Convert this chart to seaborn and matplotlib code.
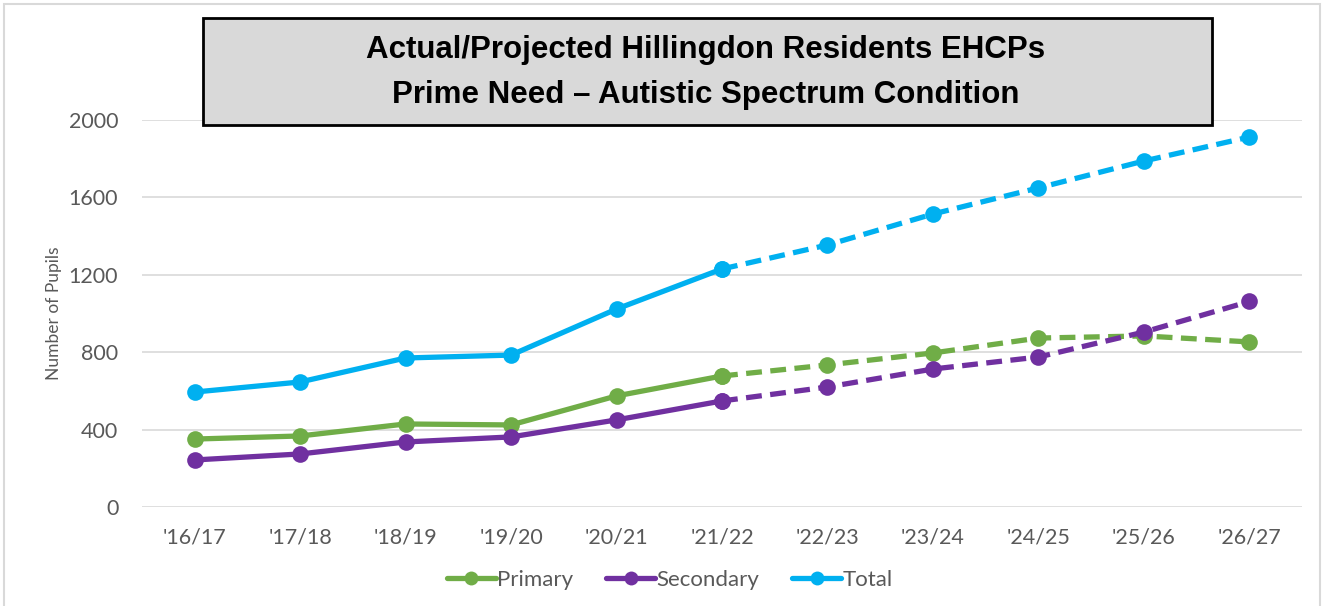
import matplotlib
matplotlib.use("Agg")
import matplotlib.pyplot as plt
import seaborn as sns
import pandas as pd
from matplotlib.lines import Line2D
from matplotlib.patches import Rectangle

years = ["'16/17", "'17/18", "'18/19", "'19/20", "'20/21", "'21/22",
         "'22/23", "'23/24", "'24/25", "'25/26", "'26/27"]
primary = [351, 367, 429, 424, 574, 677, 734, 796, 873, 884, 853]
secondary = [243, 274, 336, 362, 450, 548, 620, 713, 775, 904, 1062]
total = [594, 646, 770, 785, 1023, 1230, 1354, 1514, 1649, 1788, 1912]
last_actual = 5  # '21/22 - projections start here

colours = {"Primary": "#70ad47", "Secondary": "#7030a0", "Total": "#00b0f0"}

rows = []
for name, vals in [("Primary", primary), ("Secondary", secondary), ("Total", total)]:
    for i, (yr, v) in enumerate(zip(years, vals)):
        if i <= last_actual:
            rows.append((yr, v, name, "Actual"))
        if i >= last_actual:
            rows.append((yr, v, name, "Projected"))
df = pd.DataFrame(rows, columns=["year", "pupils", "series", "segment"])

sns.set_style("white")
plt.rcParams["font.family"] = ["Lato", "DejaVu Sans"]

fig = plt.figure(figsize=(13.26, 6.06), dpi=100)
ax = fig.add_axes([0.107, 0.1634, 0.875, 0.6386])

sns.lineplot(data=df, x="year", y="pupils", hue="series", style="segment",
             palette=colours, dashes={"Actual": "", "Projected": (3, 1.6)},
             units="segment", estimator=None, sort=False,
             marker="o", markersize=12, markeredgewidth=0, linewidth=3.8,
             legend=False, ax=ax)

ax.set_xlim(-0.5, len(years) - 0.5)
ax.set_ylim(0, 2000)
ax.set_yticks([0, 400, 800, 1200, 1600, 2000])
ax.grid(axis="y", color="#d9d9d9", linewidth=1.2)
ax.set_axisbelow(True)
for s in ax.spines.values():
    s.set_visible(False)
ax.tick_params(axis="both", length=0, labelsize=15.5, labelcolor="#595959")
ax.tick_params(axis="y", pad=17)
ax.tick_params(axis="x", pad=15)
ax.set_xlabel("")
ax.set_ylabel("Number of Pupils", fontsize=12.5, color="#595959", labelpad=5)

handles = [Line2D([0], [0], color=c, linewidth=3.8, marker="o", markersize=10,
                  markeredgewidth=0) for c in colours.values()]
fig.legend(handles, list(colours.keys()), loc="center", bbox_to_anchor=(0.505, 0.043),
           ncol=3, frameon=False, fontsize=16, labelcolor="#595959",
           handlelength=2.2, handletextpad=0.05, columnspacing=1.5)

# title box
fig.patches.append(Rectangle((203 / 1326, 1 - 125 / 606), 1009 / 1326, 107 / 606,
                             transform=fig.transFigure, facecolor="#d9d9d9",
                             edgecolor="black", linewidth=2, zorder=5))
fig.text(706 / 1326, 1 - 50 / 606, "Actual/Projected Hillingdon Residents EHCPs",
         ha="center", va="center", fontsize=22.5, fontweight="bold", color="black",
         family=["Liberation Sans", "DejaVu Sans"], zorder=6)
fig.text(706 / 1326, 1 - 95 / 606, "Prime Need \u2013 Autistic Spectrum Condition",
         ha="center", va="center", fontsize=22.5, fontweight="bold", color="black",
         family=["Liberation Sans", "DejaVu Sans"], zorder=6)

# outer chart frame
fig.patches.append(Rectangle((4 / 1326, -0.01), 1316 / 1326, 1.0 - 4 / 606 + 0.01,
                             transform=fig.transFigure, facecolor="none",
                             edgecolor="#d9d9d9", linewidth=1.5, zorder=0))

fig.savefig("out.png", dpi=100)
